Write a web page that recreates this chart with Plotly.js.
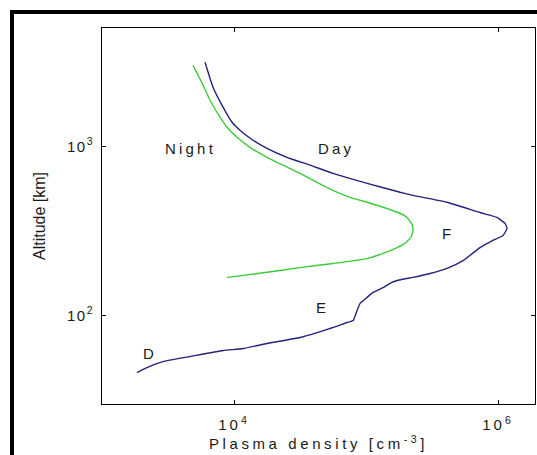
<!DOCTYPE html>
<html>
<head>
<meta charset="utf-8">
<script src="https://cdn.plot.ly/plotly-3.0.1.min.js"></script>
<style>
  html, body { margin: 0; padding: 0; background: #fff; overflow: hidden; }
  #chart { width: 537px; height: 455px; }
  #frame { position: absolute; left: 10px; top: 10px; width: 640px; height: 560px;
           border: 4px solid #000; pointer-events: none; z-index: 5; }
  .xtitle { letter-spacing: 3.6px; }
  .xtick text { letter-spacing: 3px; }
  .ytick text { letter-spacing: 1.5px; }
  .annotation-text { letter-spacing: 3.2px; }
</style>
</head>
<body>
<div id="frame"></div>
<div id="chart"></div>
<script>
// Day profile: plasma density [cm^-3] vs altitude [km]
const dayDensity = [6030, 6935, 8260, 9660, 11100, 13930, 17780, 25200, 37700, 56200, 101900,
  181000, 227000, 411000, 731000, 982000, 1130000, 1170000, 1090000, 916000, 731000, 543000,
  411000, 305000, 227000, 172000, 152000, 134600, 113000, 101900, 90200, 85500, 79800, 71800,
  56200, 42600, 31600, 17800, 11700, 8260, 4640, 2900, 2190, 1840];
const dayAltitude = [3140, 2234, 1702, 1387, 1245, 1086, 973, 861, 773, 692, 604,
  535, 513, 467, 406, 380, 350, 327, 297, 278, 252, 211,
  190, 177, 168, 161, 155, 146, 137, 128, 118, 107, 93.4, 90.9,
  84.9, 79.3, 74.1, 68.3, 63.8, 62.1, 57.2, 53.4, 49.2, 46.0];

// Night profile
const nightDensity = [4890, 5250, 5730, 6580, 7840, 8850, 10540, 13210, 17780, 23500, 31600,
  42500, 56200, 75600, 101900, 134600, 181000, 204700, 223000, 227000, 219000, 197000,
  172000, 134600, 101900, 56200, 31600, 17800, 8850];
const nightAltitude = [3013, 2704, 2361, 1871, 1485, 1295, 1130, 986, 861, 773, 692,
  612, 549, 499, 467, 436, 402, 380, 345, 318, 290, 267,
  252, 233, 217, 203, 192, 180, 168];

const xTickVals = [1e4, 1e6];
const xTickText = ['10<sup>4</sup>', '10<sup>6</sup>'];
const yTickVals = [1e2, 1e3];
const yTickText = ['10<sup>2</sup>', '10<sup>3</sup>'];

const labels = ['Night', 'Day', 'F', 'E', 'D'];
const labelX = [4650, 59300, 418000, 46400, 2310];
const labelY = [973, 973, 305, 111, 59.6];

const traces = [
  { x: dayDensity, y: dayAltitude, type: 'scatter', mode: 'lines', name: 'Day',
    line: { color: '#23237a', width: 1.4, shape: 'spline', smoothing: 0.4 }, showlegend: false },
  { x: nightDensity, y: nightAltitude, type: 'scatter', mode: 'lines', name: 'Night',
    line: { color: '#3ccc3c', width: 1.4, shape: 'spline', smoothing: 0.4 }, showlegend: false }
];

const baseFont = 'Liberation Sans, Arial, sans-serif';
const txt = { family: baseFont, size: 15, color: '#1a1a1a' };

const layout = {
  width: 537, height: 455,
  margin: { l: 102, r: 2, t: 28, b: 51 },
  paper_bgcolor: '#fff', plot_bgcolor: '#fff',
  font: txt,
  xaxis: {
    type: 'log', range: [3, 6.28],
    tickvals: xTickVals, ticktext: xTickText,
    ticks: 'inside', ticklen: 4, tickcolor: '#000', tickwidth: 1,
    ticklabelstandoff: 7,
    showline: true, linecolor: '#000', linewidth: 1, mirror: 'ticks',
    showgrid: false, zeroline: false,
    tickfont: txt,
    title: { text: 'Plasma density [cm<sup>-3</sup>]', standoff: 3, font: txt }
  },
  yaxis: {
    type: 'log', range: [Math.log10(30), Math.log10(5000)],
    tickvals: yTickVals, ticktext: yTickText,
    ticks: 'inside', ticklen: 4, tickcolor: '#000', tickwidth: 1,
    ticklabelstandoff: 4,
    showline: true, linecolor: '#000', linewidth: 1, mirror: 'ticks',
    showgrid: false, zeroline: false,
    tickfont: txt,
    title: { text: 'Altitude [km]', standoff: 17,
             font: { family: 'Liberation Sans Narrow, Arial Narrow, Liberation Sans, sans-serif', size: 16, color: '#1a1a1a' } }
  },
  annotations: labels.map((t, i) => ({
    text: t, x: Math.log10(labelX[i]), y: Math.log10(labelY[i]),
    xref: 'x', yref: 'y', showarrow: false, font: txt
  }))
};

Plotly.newPlot('chart', traces, layout, { displayModeBar: false, staticPlot: true });
</script>
</body>
</html>
